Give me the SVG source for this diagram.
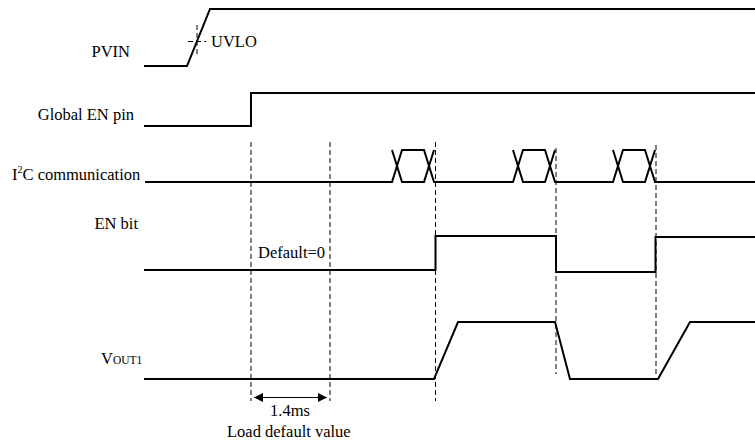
<svg xmlns="http://www.w3.org/2000/svg" width="755" height="442" viewBox="0 0 755 442">
<defs>
<marker id="ah" viewBox="0 0 10 10" refX="10" refY="5" markerWidth="9" markerHeight="9" markerUnits="userSpaceOnUse" orient="auto-start-reverse">
<path d="M0,0 L10,5 L0,10 z" fill="#000"/>
</marker>
</defs>
<style>
text{font-family:"Liberation Serif","Times New Roman",serif;font-size:16.5px;fill:#000}
.sig{fill:none;stroke:#000;stroke-width:2;stroke-linejoin:miter}
.dash{fill:none;stroke:#000;stroke-width:1;stroke-dasharray:5,3}
.lab{text-anchor:end}
</style>
<rect width="755" height="442" fill="#fff"/>
<g id="pvin">
<text class="lab" x="130" y="57">PVIN</text>
<path class="sig" d="M144,66 H187 L210,9 H755"/>
<path class="dash" d="M197,25 V54 M188,41.5 H206" stroke-dasharray="3,2"/>
<text x="211" y="46.5">UVLO</text>
</g>
<g id="global-en">
<text class="lab" x="134" y="120">Global EN pin</text>
<path class="sig" d="M144,126 H251 V93 H755"/>
</g>
<g id="i2c">
<text x="12" y="180">I<tspan font-size="10" dy="-7">2</tspan><tspan dy="7">C communication</tspan></text>
<path class="sig" d="M145,182 H392 L402,150 H424 L434,182 H513 L523,150 H545 L555,182 H613 L623,150 H645 L655,182 H755"/>
<path class="sig" d="M392,150 L402,182 H424 L434,150"/>
<path class="sig" d="M513,150 L523,182 H545 L555,150"/>
<path class="sig" d="M613,150 L623,182 H645 L655,150"/>
</g>
<g id="en-bit">
<text class="lab" x="138" y="229">EN bit</text>
<path class="sig" d="M144,270 H435.5 V236 H556 V272 H655.5 V237 H755"/>
<text x="258" y="258">Default=0</text>
</g>
<g id="vout1">
<text x="101" y="364">V<tspan font-size="11.5">OUT1</tspan></text>
<path class="sig" d="M144,379 H434 L458,322 H555 L570,379 H658 L690,322 H755"/>
</g>
<g id="connectors">
<path class="dash" d="M251,142 V401"/>
<path class="dash" d="M330,142 V401"/>
<path class="dash" d="M435.5,142 V401"/>
<path class="dash" d="M556,148 V374"/>
<path class="dash" d="M656,145 V375"/>
<path fill="none" stroke="#000" stroke-width="1.2" d="M254,397.5 H327" marker-start="url(#ah)" marker-end="url(#ah)"/>
</g>
<g id="timing-label">
<text x="270" y="416">1.4ms</text>
<text x="227" y="437">Load default value</text>
</g>
</svg>
